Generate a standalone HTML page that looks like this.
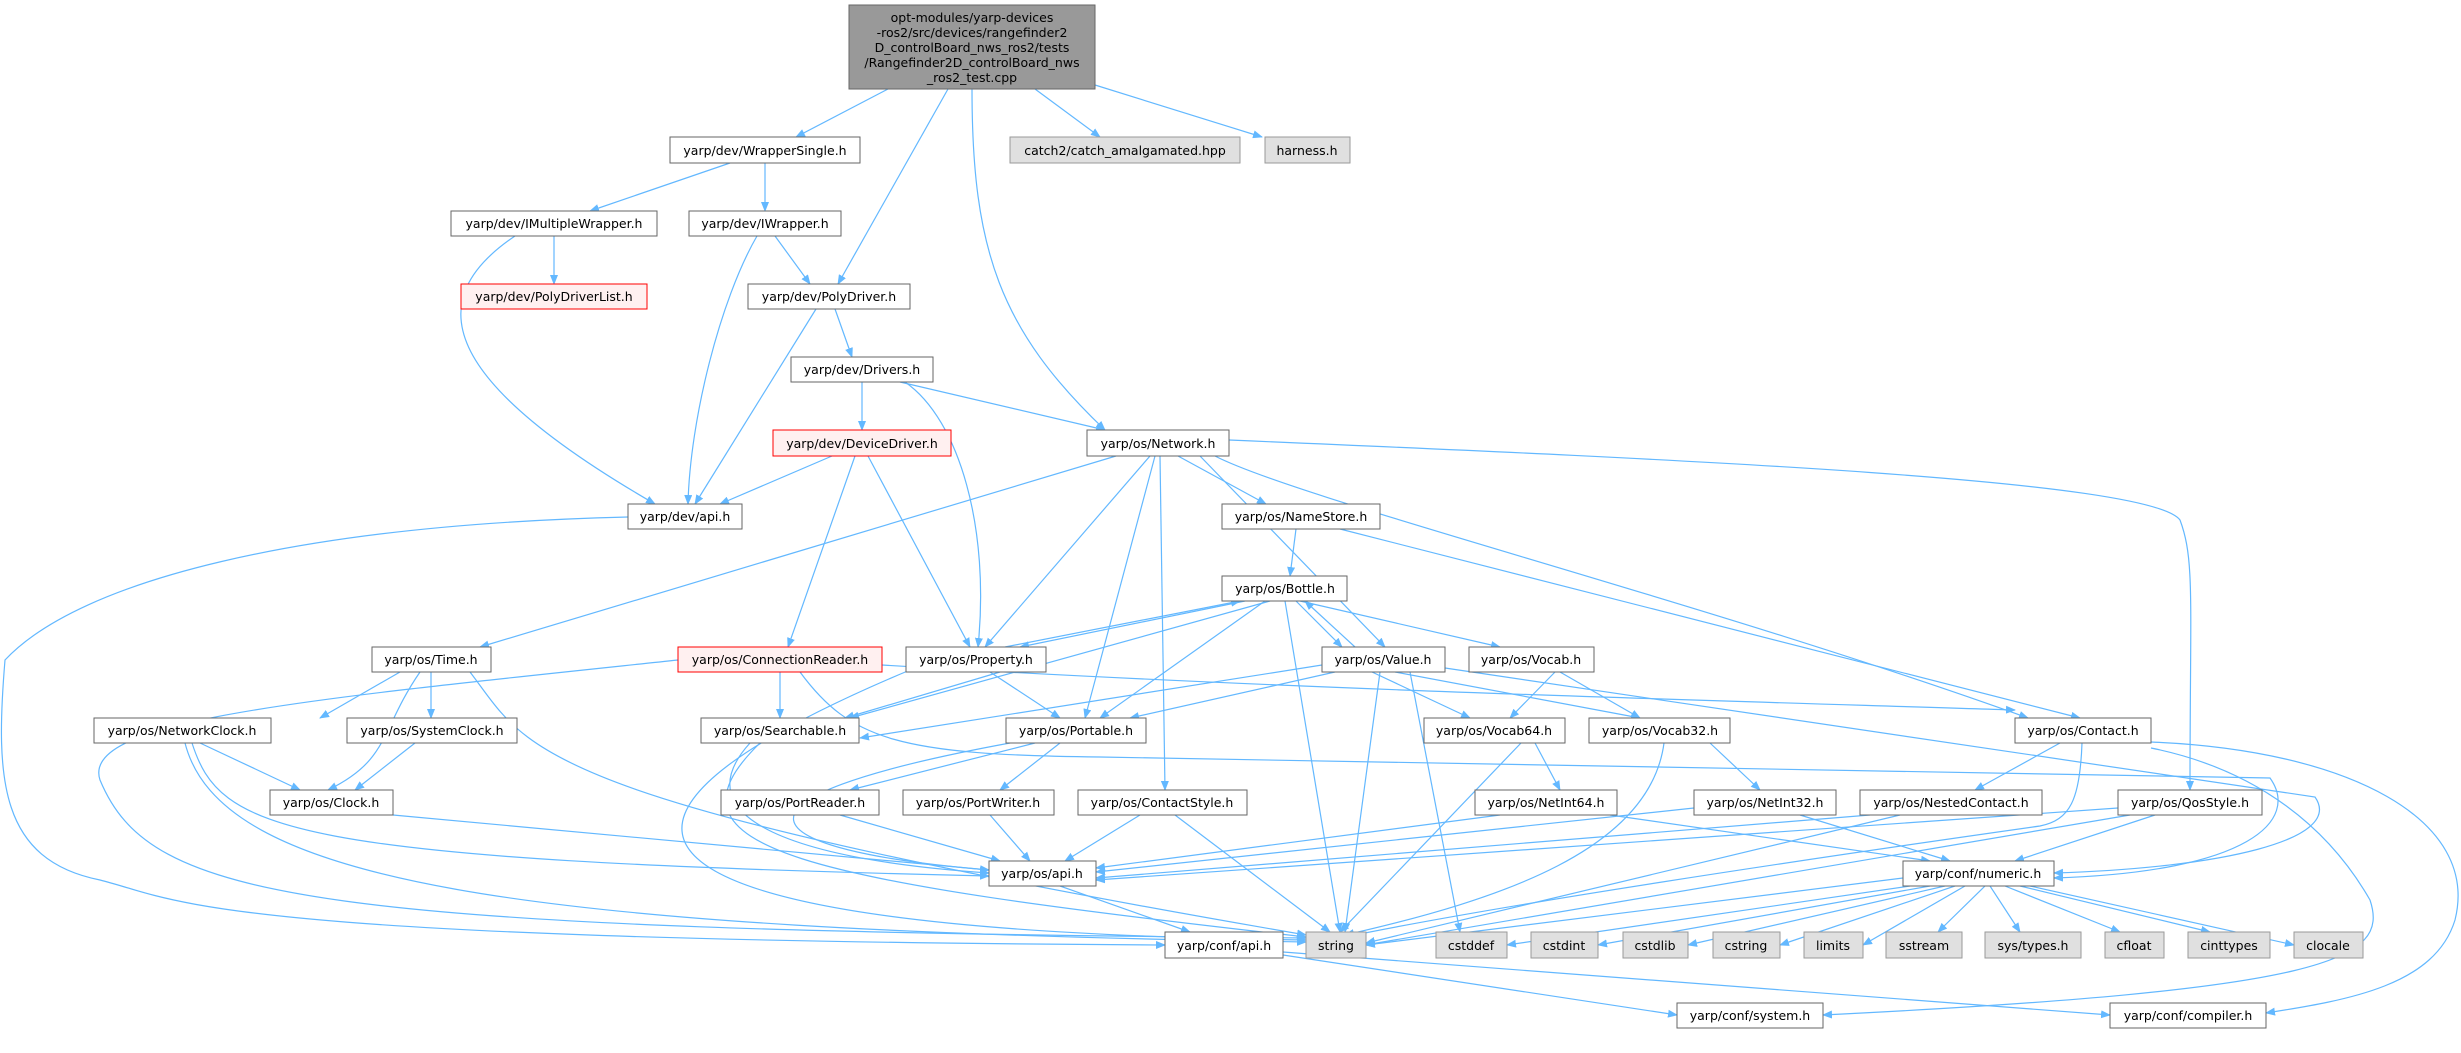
<!DOCTYPE html>
<html><head><meta charset="utf-8"><style>
body{margin:0;background:#fff;}
svg text{font-family:"DejaVu Sans","Liberation Sans",sans-serif;font-size:12.5px;fill:#000;}
</style></head><body>
<svg width="2461" height="1048" viewBox="0 0 2461 1048" xmlns="http://www.w3.org/2000/svg">
<defs><marker id="a" markerWidth="10" markerHeight="8" refX="9" refY="4" orient="auto" markerUnits="userSpaceOnUse"><path d="M0,0 L10,4 L0,8 z" fill="#63b8ff"/></marker></defs>
<g fill="none" stroke="#63b8ff" stroke-width="1.2" marker-end="url(#a)">
<path d="M888 89 L796 137"/>
<path d="M948 89 L838 284"/>
<path d="M972 89 C972 250 1000 330 1105 430"/>
<path d="M1035 89 L1100 137"/>
<path d="M1095 85 L1262 137"/>
<path d="M730 163 L590 211"/>
<path d="M765 163 L765 211"/>
<path d="M554 236 L554 284"/>
<path d="M515 236 C420 300 440 380 655 504"/>
<path d="M757 236 C720 300 690 420 688 504"/>
<path d="M775 236 L810 284"/>
<path d="M816 309 L695 504"/>
<path d="M835 309 L852 357"/>
<path d="M862 382 L862 430"/>
<path d="M900 382 L1105 430"/>
<path d="M905 382 C960 420 990 530 978 647"/>
<path d="M832 456 L720 504"/>
<path d="M855 456 L788 647"/>
<path d="M868 456 L970 647"/>
<path d="M628 517 C300 525 80 580 5 660 C-5 780 0 860 100 880 C180 900 200 940 1165 945"/>
<path d="M1116 456 L480 647"/>
<path d="M1150 456 L985 647"/>
<path d="M1155 456 L1085 718"/>
<path d="M1160 456 L1165 790"/>
<path d="M1178 456 L1266 504"/>
<path d="M1200 456 L1385 647"/>
<path d="M1215 456 C1300 500 1700 600 2028 718"/>
<path d="M1229 440 C1700 460 2150 480 2180 520 C2195 560 2190 600 2190 790"/>
<path d="M1296 529 L1290 576"/>
<path d="M1340 529 L2080 718"/>
<path d="M1245 601 L1020 647"/>
<path d="M1296 601 L1342 647"/>
<path d="M1300 601 L1500 647"/>
<path d="M1270 601 L850 718"/>
<path d="M1265 601 L1100 718"/>
<path d="M1285 601 L1340 932"/>
<path d="M1005 647 L1240 601"/>
<path d="M1000 672 L845 718"/>
<path d="M990 672 L1060 718"/>
<path d="M910 670 C600 800 500 930 1306 940"/>
<path d="M1355 647 L1305 601"/>
<path d="M1322 665 L860 738"/>
<path d="M1335 672 L1130 718"/>
<path d="M1372 672 L1470 718"/>
<path d="M1395 672 L1640 718"/>
<path d="M1380 672 L1345 932"/>
<path d="M1410 672 L1460 932"/>
<path d="M1445 668 L2315 797 C2345 840 2220 868 2054 873"/>
<path d="M1555 672 L1510 718"/>
<path d="M1560 672 L1640 718"/>
<path d="M400 672 L320 718"/>
<path d="M431 672 L431 718"/>
<path d="M420 672 C380 730 390 760 328 790"/>
<path d="M470 672 C530 750 520 800 1306 935"/>
<path d="M678 660 C300 700 80 720 100 780 C150 900 300 930 1306 938"/>
<path d="M780 672 L780 718"/>
<path d="M800 672 C850 740 900 755 1100 757 L2270 778 C2300 820 2250 872 2054 878"/>
<path d="M882 665 C1300 690 1700 700 2015 710"/>
<path d="M200 743 L300 790"/>
<path d="M192 743 C220 830 280 860 989 876"/>
<path d="M185 743 C220 880 500 930 1306 942"/>
<path d="M415 743 L355 790"/>
<path d="M760 743 C650 850 800 880 1306 937"/>
<path d="M750 743 C680 820 800 860 989 873"/>
<path d="M1035 743 L850 790"/>
<path d="M1060 743 L1000 790"/>
<path d="M1010 743 C700 800 750 850 989 870"/>
<path d="M393 815 L989 870"/>
<path d="M840 815 L1000 861"/>
<path d="M990 815 L1030 861"/>
<path d="M1140 815 L1065 861"/>
<path d="M1175 815 L1330 932"/>
<path d="M1521 743 L1340 932"/>
<path d="M1535 743 L1560 790"/>
<path d="M1710 743 L1760 790"/>
<path d="M1664 743 C1650 850 1500 900 1345 935"/>
<path d="M1500 815 L1096 868"/>
<path d="M1610 815 L1930 861"/>
<path d="M1694 808 L1096 872"/>
<path d="M1800 815 L1950 861"/>
<path d="M2060 743 L1975 790"/>
<path d="M2082 743 C2080 800 2070 820 2040 826 C1800 860 1500 905 1345 937"/>
<path d="M2151 748 C2260 770 2330 830 2370 900 C2390 960 2330 990 1823 1015"/>
<path d="M2151 742 C2350 750 2480 820 2455 920 C2435 985 2350 1000 2266 1013"/>
<path d="M1870 815 L1096 878"/>
<path d="M1900 815 L1366 943"/>
<path d="M2118 808 L1096 880"/>
<path d="M2130 815 L1365 945"/>
<path d="M2155 815 L2015 861"/>
<path d="M1060 886 L1190 932"/>
<path d="M1903 878 L1366 945"/>
<path d="M1910 886 L1507 945"/>
<path d="M1930 886 L1598 945"/>
<path d="M1945 886 L1688 945"/>
<path d="M1955 886 L1780 945"/>
<path d="M1965 886 L1863 945"/>
<path d="M1985 886 L1938 932"/>
<path d="M1990 886 L2020 932"/>
<path d="M2005 886 L2120 932"/>
<path d="M2020 886 L2210 932"/>
<path d="M2030 886 L2294 945"/>
<path d="M1283 955 L1677 1015"/>
<path d="M1283 952 L2110 1015"/>
</g>
<g stroke-width="1">
<rect x="849" y="5" width="246" height="84" fill="#999999" stroke="#666"/>
<text x="972" y="22" text-anchor="middle">opt-modules/yarp-devices</text>
<text x="972" y="37" text-anchor="middle">-ros2/src/devices/rangefinder2</text>
<text x="972" y="52" text-anchor="middle">D_controlBoard_nws_ros2/tests</text>
<text x="972" y="67" text-anchor="middle">/Rangefinder2D_controlBoard_nws</text>
<text x="972" y="82" text-anchor="middle">_ros2_test.cpp</text>
</g>
<g stroke="#666" stroke-width="1" fill="#fff" font-size="12.5">
<rect x="670" y="137" width="190" height="26"/>
<rect x="451" y="211" width="206" height="25"/>
<rect x="689" y="211" width="152" height="25"/>
<rect x="748" y="284" width="162" height="25"/>
<rect x="791" y="357" width="142" height="25"/>
<rect x="1087" y="430" width="142" height="26"/>
<rect x="628" y="504" width="114" height="25"/>
<rect x="1222" y="504" width="158" height="25"/>
<rect x="1222" y="576" width="125" height="25"/>
<rect x="372" y="647" width="119" height="25"/>
<rect x="906" y="647" width="140" height="25"/>
<rect x="1322" y="647" width="123" height="25"/>
<rect x="1469" y="647" width="125" height="25"/>
<rect x="94" y="718" width="177" height="25"/>
<rect x="347" y="718" width="170" height="25"/>
<rect x="701" y="718" width="158" height="25"/>
<rect x="1006" y="718" width="140" height="25"/>
<rect x="1424" y="718" width="141" height="25"/>
<rect x="1589" y="718" width="141" height="25"/>
<rect x="2015" y="718" width="136" height="25"/>
<rect x="270" y="790" width="123" height="25"/>
<rect x="721" y="790" width="158" height="25"/>
<rect x="903" y="790" width="151" height="25"/>
<rect x="1078" y="790" width="169" height="25"/>
<rect x="1475" y="790" width="142" height="25"/>
<rect x="1694" y="790" width="142" height="25"/>
<rect x="1860" y="790" width="182" height="25"/>
<rect x="2118" y="790" width="144" height="25"/>
<rect x="989" y="861" width="107" height="25"/>
<rect x="1903" y="861" width="151" height="25"/>
<rect x="1165" y="932" width="118" height="26"/>
<rect x="1677" y="1003" width="146" height="25"/>
<rect x="2110" y="1003" width="156" height="25"/>
</g>
<g stroke="#ff0000" fill="#fff0f0">
<rect x="461" y="284" width="186" height="25"/>
<rect x="773" y="430" width="178" height="26"/>
<rect x="678" y="647" width="204" height="25"/>
</g>
<g stroke="#999" fill="#e0e0e0">
<rect x="1010" y="137" width="230" height="26"/>
<rect x="1265" y="137" width="85" height="26"/>
<rect x="1306" y="932" width="60" height="26"/>
<rect x="1436" y="932" width="71" height="26"/>
<rect x="1531" y="932" width="67" height="26"/>
<rect x="1623" y="932" width="65" height="26"/>
<rect x="1713" y="932" width="67" height="26"/>
<rect x="1804" y="932" width="59" height="26"/>
<rect x="1886" y="932" width="76" height="26"/>
<rect x="1985" y="932" width="96" height="26"/>
<rect x="2105" y="932" width="59" height="26"/>
<rect x="2188" y="932" width="82" height="26"/>
<rect x="2294" y="932" width="69" height="26"/>
</g>
<g text-anchor="middle">
<text x="765" y="155">yarp/dev/WrapperSingle.h</text>
<text x="1125" y="155">catch2/catch_amalgamated.hpp</text>
<text x="1307" y="155">harness.h</text>
<text x="554" y="228">yarp/dev/IMultipleWrapper.h</text>
<text x="765" y="228">yarp/dev/IWrapper.h</text>
<text x="554" y="301">yarp/dev/PolyDriverList.h</text>
<text x="829" y="301">yarp/dev/PolyDriver.h</text>
<text x="862" y="374">yarp/dev/Drivers.h</text>
<text x="862" y="448">yarp/dev/DeviceDriver.h</text>
<text x="1158" y="448">yarp/os/Network.h</text>
<text x="685" y="521">yarp/dev/api.h</text>
<text x="1301" y="521">yarp/os/NameStore.h</text>
<text x="1285" y="593">yarp/os/Bottle.h</text>
<text x="431" y="664">yarp/os/Time.h</text>
<text x="780" y="664">yarp/os/ConnectionReader.h</text>
<text x="976" y="664">yarp/os/Property.h</text>
<text x="1383" y="664">yarp/os/Value.h</text>
<text x="1531" y="664">yarp/os/Vocab.h</text>
<text x="182" y="735">yarp/os/NetworkClock.h</text>
<text x="432" y="735">yarp/os/SystemClock.h</text>
<text x="780" y="735">yarp/os/Searchable.h</text>
<text x="1076" y="735">yarp/os/Portable.h</text>
<text x="1494" y="735">yarp/os/Vocab64.h</text>
<text x="1660" y="735">yarp/os/Vocab32.h</text>
<text x="2083" y="735">yarp/os/Contact.h</text>
<text x="331" y="807">yarp/os/Clock.h</text>
<text x="800" y="807">yarp/os/PortReader.h</text>
<text x="978" y="807">yarp/os/PortWriter.h</text>
<text x="1162" y="807">yarp/os/ContactStyle.h</text>
<text x="1546" y="807">yarp/os/NetInt64.h</text>
<text x="1765" y="807">yarp/os/NetInt32.h</text>
<text x="1951" y="807">yarp/os/NestedContact.h</text>
<text x="2190" y="807">yarp/os/QosStyle.h</text>
<text x="1042" y="878">yarp/os/api.h</text>
<text x="1978" y="878">yarp/conf/numeric.h</text>
<text x="1224" y="950">yarp/conf/api.h</text>
<text x="1336" y="950">string</text>
<text x="1471" y="950">cstddef</text>
<text x="1564" y="950">cstdint</text>
<text x="1655" y="950">cstdlib</text>
<text x="1746" y="950">cstring</text>
<text x="1833" y="950">limits</text>
<text x="1924" y="950">sstream</text>
<text x="2033" y="950">sys/types.h</text>
<text x="2134" y="950">cfloat</text>
<text x="2229" y="950">cinttypes</text>
<text x="2328" y="950">clocale</text>
<text x="1750" y="1020">yarp/conf/system.h</text>
<text x="2188" y="1020">yarp/conf/compiler.h</text>
</g>
</svg>
</body></html>
